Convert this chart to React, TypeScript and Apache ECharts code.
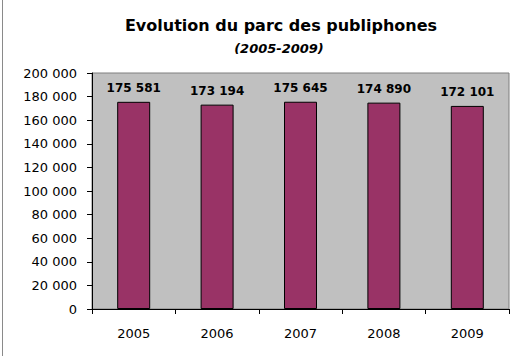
import React, { useEffect, useRef } from "react";
import * as echarts from "echarts";

const years = ["2005", "2006", "2007", "2008", "2009"];
const publiphones = [175581, 173194, 175645, 174890, 172101];
const yMin = 0;
const yMax = 200000;
const yStep = 20000;
const titleText = "Evolution du parc des publiphones";
const subtitleText = "(2005-2009)";

const FONT = "'DejaVu Sans', 'Liberation Sans', Arial, sans-serif";

const fmt = (v: number) => {
  const s = String(Math.round(v));
  return s.replace(/\B(?=(\d{3})+(?!\d))/g, " ");
};

export default function App() {
  const ref = useRef<HTMLDivElement>(null);
  useEffect(() => {
    if (!ref.current) return;
    const chart = echarts.init(ref.current, null, { renderer: "svg" });
    chart.setOption({
      animation: false,
      backgroundColor: "#ffffff",
      textStyle: { fontFamily: FONT },
      title: [
        {
          text: titleText,
          left: 276,
          textAlign: "center",
          top: 12,
          textStyle: { fontSize: 16, fontWeight: "bold", color: "#000", fontFamily: FONT },
        },
        {
          text: subtitleText,
          left: 274,
          textAlign: "center",
          top: 37,
          textStyle: { fontSize: 13, fontWeight: "bold", fontStyle: "italic", color: "#000", fontFamily: FONT },
        },
      ],
      graphic: [
        {
          type: "line",
          shape: { x1: 2.5, y1: 0, x2: 2.5, y2: 356 },
          style: { stroke: "#8a8a8a", lineWidth: 1 },
        },
      ],
      grid: {
        left: 92,
        top: 73,
        right: 14,
        bottom: 47,
        show: true,
        backgroundColor: "#c0c0c0",
        borderColor: "#7f7f7f",
        borderWidth: 1,
      },
      xAxis: {
        type: "category",
        data: years,
        boundaryGap: true,
        axisLine: { show: true, lineStyle: { color: "#000", width: 1 } },
        axisTick: { show: true, length: 5, alignWithLabel: false, lineStyle: { color: "#000" } },
        axisLabel: { color: "#000", fontSize: 13, margin: 18, fontFamily: FONT },
        splitLine: { show: false },
      },
      yAxis: {
        type: "value",
        min: yMin,
        max: yMax,
        interval: yStep,
        axisLine: { show: true, lineStyle: { color: "#000", width: 1 } },
        axisTick: { show: true, length: 5, lineStyle: { color: "#000" } },
        axisLabel: { color: "#000", fontSize: 13, margin: 15, fontFamily: FONT, formatter: (v: number) => fmt(v) },
        splitLine: { show: false },
      },
      series: [
        {
          type: "bar",
          data: publiphones,
          barWidth: 33,
          itemStyle: { color: "#993366", borderColor: "#000", borderWidth: 1 },
          label: {
            show: true,
            position: "top",
            distance: 8,
            color: "#000",
            fontSize: 12,
            fontWeight: "bold",
            fontFamily: FONT,
            formatter: (p: any) => fmt(p.value),
          },
        },
      ],
    });
    return () => chart.dispose();
  }, []);
  return (
    <div
      ref={ref}
      style={{ position: "fixed", left: 0, top: 0, width: 523, height: 356 }}
    />
  );
}
